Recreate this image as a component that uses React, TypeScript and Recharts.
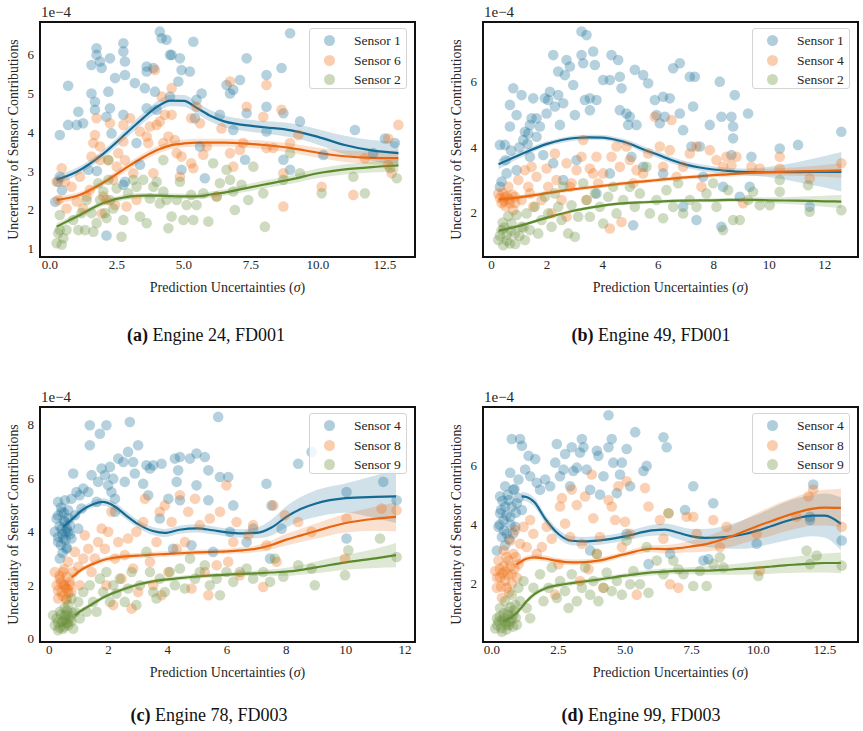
import { ComposedChart, Scatter, Line, Area, XAxis, YAxis } from 'recharts';

type Pt = [number, number];
type Fit = (number | null)[];

const FONT = "'Liberation Serif', 'Times New Roman', serif";
const INK = '#262626';
const FRAME = '#111111';

const COLORS = [
    { dot: '#1b6f99', line: '#146a93' },
    { dot: '#ef7016', line: '#e8650e' },
    { dot: '#6a8f3a', line: '#5b8a2c' },
];

// ---------- (a) Engine 24, FD001 ----------
const aNames = ['Sensor 1', 'Sensor 6', 'Sensor 2'];
const aSensor1: Pt[] = [
    [0.37, 3.93], [0.68, 5.2], [0.37, 2.85], [0.3, 2.72], [0.68, 4.19], [1.0, 4.19], [1.06, 4.53], [1.24, 4.23],
    [1.43, 3.03], [1.55, 5.0], [1.55, 5.74], [1.68, 4.58], [1.68, 4.79], [1.74, 6.0], [1.74, 6.17], [1.87, 5.83],
    [1.93, 5.66], [2.11, 4.4], [2.18, 5.05], [2.24, 5.91], [2.24, 4.62], [2.11, 1.33], [2.3, 3.97], [2.43, 5.4],
    [2.74, 6.3], [2.74, 6.09], [2.8, 5.83], [2.8, 5.48], [2.74, 4.45], [2.8, 2.72], [3.17, 5.27], [3.23, 3.72],
    [3.36, 3.16], [3.54, 5.14], [3.61, 5.57], [3.61, 5.7], [3.61, 4.62], [3.86, 5.66], [3.92, 5.05], [4.1, 6.6],
    [4.17, 6.43], [3.98, 4.58], [4.35, 6.39], [4.48, 6.0], [4.54, 6.0], [4.48, 4.92], [4.79, 5.31], [4.85, 5.91],
    [4.91, 5.61], [4.91, 3.03], [5.22, 5.57], [5.35, 6.34], [5.41, 4.36], [5.47, 4.84], [5.6, 3.63], [5.66, 5.0],
    [5.78, 2.81], [6.34, 4.45], [6.59, 5.22], [6.72, 5.0], [6.84, 5.1], [6.84, 4.06], [7.09, 5.35], [7.34, 5.91],
    [7.34, 4.49], [7.28, 3.29], [8.08, 5.48], [8.08, 4.66], [8.08, 4.02], [8.64, 5.66], [8.71, 4.49], [8.71, 3.29],
    [8.96, 6.56], [8.96, 3.03], [9.33, 4.28], [10.2, 3.41], [11.38, 4.06], [12.06, 3.46], [12.5, 3.84], [12.87, 3.72],
    [0.2, 2.2], [0.45, 2.5], [1.75, 3.0], [2.74, 2.64],
];
const aSensor6: Pt[] = [
    [0.25, 2.72], [0.31, 2.25], [0.44, 3.07], [0.56, 2.72], [0.62, 2.03], [0.81, 2.59], [1.0, 2.21], [1.12, 2.85],
    [1.24, 2.03], [1.37, 2.34], [1.49, 2.51], [1.55, 3.37], [1.62, 3.72], [1.68, 3.93], [1.74, 4.36], [1.87, 3.63],
    [1.87, 3.28], [1.93, 1.9], [1.99, 2.34], [2.11, 2.25], [2.18, 3.28], [2.24, 4.23], [2.36, 2.77], [2.43, 2.12],
    [2.49, 3.11], [2.55, 3.46], [2.74, 4.19], [2.74, 3.76], [2.8, 3.28], [2.86, 2.08], [2.99, 4.36], [3.11, 2.94],
    [3.23, 2.25], [3.36, 4.02], [3.61, 3.89], [3.67, 3.72], [3.73, 4.15], [3.86, 2.94], [3.92, 5.61], [3.98, 4.19],
    [4.1, 4.28], [4.17, 4.92], [4.23, 3.72], [4.29, 4.45], [4.42, 3.89], [4.54, 5.14], [4.54, 4.45], [4.66, 3.8],
    [4.73, 3.46], [4.85, 2.85], [4.91, 3.37], [5.27, 4.36], [5.27, 3.2], [5.35, 3.07], [5.47, 4.66], [5.6, 4.23],
    [5.72, 3.42], [5.85, 3.63], [6.22, 2.34], [6.4, 4.1], [6.72, 5.31], [6.72, 3.46], [6.84, 3.11], [7.09, 3.54],
    [7.21, 3.72], [7.34, 4.66], [7.96, 4.4], [8.08, 5.22], [8.08, 3.59], [8.33, 3.59], [8.64, 4.58], [8.71, 2.94],
    [8.71, 2.08], [8.96, 3.72], [9.27, 3.93], [10.14, 2.59], [11.32, 2.38], [11.75, 3.33], [12.62, 3.16],
    [12.62, 3.84], [13.0, 4.19], [12.75, 2.94],
];
const aSensor2: Pt[] = [
    [0.25, 1.13], [0.31, 1.39], [0.37, 1.47], [0.44, 1.09], [0.5, 1.26], [0.37, 1.86], [0.62, 1.47], [0.87, 1.73],
    [1.06, 1.47], [1.18, 1.91], [1.31, 1.47], [1.37, 2.25], [1.55, 1.91], [1.62, 1.43], [1.74, 1.65], [1.8, 2.68],
    [1.87, 2.25], [1.99, 2.47], [2.05, 1.91], [2.11, 1.78], [2.18, 3.28], [2.18, 2.77], [2.24, 2.25], [2.36, 2.03],
    [2.49, 2.55], [2.67, 1.3], [2.74, 1.73], [2.92, 2.42], [3.11, 2.77], [3.23, 2.59], [3.36, 1.82], [3.48, 2.77],
    [3.61, 1.65], [3.73, 2.29], [3.86, 2.59], [3.98, 2.72], [4.1, 2.16], [4.23, 2.47], [4.23, 3.28], [4.35, 2.25],
    [4.42, 1.52], [4.54, 1.82], [4.73, 2.25], [4.85, 2.72], [4.98, 1.73], [5.1, 2.12], [5.27, 2.38], [5.35, 1.73],
    [5.47, 2.12], [5.72, 2.42], [5.91, 1.69], [6.09, 3.2], [6.22, 2.34], [6.34, 2.68], [6.59, 3.03], [6.72, 2.77],
    [6.84, 2.47], [6.9, 1.99], [7.15, 2.64], [7.4, 2.25], [7.59, 3.11], [7.96, 2.42], [8.02, 1.56], [8.71, 2.77],
    [8.96, 3.46], [9.33, 2.94], [10.14, 2.42], [11.32, 2.85], [11.75, 2.42], [12.69, 3.07], [12.94, 2.81],
];
const aCurveX = [0.25, 1, 2, 3, 3.5, 4, 4.5, 5, 5.5, 6, 6.5, 7, 8, 9, 10, 11, 12, 13];
const aFit1: Fit = [2.77, 2.98, 3.45, 4.07, 4.38, 4.66, 4.82, 4.81, 4.62, 4.42, 4.28, 4.21, 4.13, 4.05, 3.88, 3.67, 3.53, 3.46];
const aHalf1 = [0.12, 0.1, 0.1, 0.12, 0.13, 0.14, 0.15, 0.15, 0.15, 0.15, 0.15, 0.15, 0.16, 0.18, 0.2, 0.24, 0.27, 0.3];
const aFit6: Fit = [2.25, 2.35, 2.7, 3.15, 3.36, 3.54, 3.66, 3.71, 3.73, 3.73, 3.73, 3.72, 3.67, 3.59, 3.47, 3.38, 3.34, 3.33];
const aHalf6 = [0.1, 0.08, 0.08, 0.1, 0.1, 0.1, 0.1, 0.1, 0.1, 0.1, 0.1, 0.1, 0.11, 0.12, 0.13, 0.15, 0.17, 0.2];
const aFit2: Fit = [1.56, 1.82, 2.17, 2.34, 2.36, 2.36, 2.35, 2.34, 2.34, 2.39, 2.44, 2.51, 2.65, 2.78, 2.94, 3.04, 3.1, 3.14];
const aHalf2 = [0.08, 0.07, 0.07, 0.07, 0.07, 0.07, 0.07, 0.07, 0.07, 0.08, 0.08, 0.09, 0.1, 0.11, 0.12, 0.13, 0.14, 0.16];

// ---------- (b) Engine 49, FD001 ----------
const bNames = ['Sensor 1', 'Sensor 4', 'Sensor 2'];
const bSensor1: Pt[] = [
    [0.3, 4.07], [0.36, 2.95], [0.48, 4.07], [0.66, 4.63], [0.78, 5.8], [0.66, 5.29], [0.9, 4.98], [1.08, 5.59],
    [1.14, 4.22], [1.2, 4.47], [1.32, 4.42], [1.38, 4.68], [1.44, 4.88], [1.5, 5.49], [1.62, 4.32], [1.62, 4.88],
    [1.74, 4.63], [1.86, 3.76], [1.92, 5.49], [1.98, 5.03], [2.04, 5.44], [2.1, 5.69], [2.22, 6.81], [2.28, 5.24],
    [2.4, 5.59], [2.4, 6.31], [2.46, 4.68], [2.58, 5.34], [2.64, 6.2], [2.7, 6.66], [2.82, 6.46], [2.94, 5.9],
    [3.0, 4.98], [3.24, 7.53], [3.42, 7.42], [3.24, 6.81], [3.3, 6.56], [3.36, 5.44], [3.54, 5.13], [3.66, 6.92],
    [3.72, 6.51], [3.54, 5.49], [3.78, 5.44], [4.02, 6.05], [4.26, 6.05], [4.32, 6.81], [4.56, 6.66], [4.62, 6.15],
    [4.68, 5.8], [4.62, 5.13], [4.86, 5.03], [4.98, 4.93], [4.92, 4.68], [5.22, 4.68], [5.16, 6.36], [5.46, 6.2],
    [5.64, 5.95], [5.88, 5.44], [5.94, 4.98], [6.06, 4.73], [6.18, 5.54], [6.24, 4.93], [6.42, 5.49], [6.54, 6.41],
    [6.78, 6.56], [6.78, 5.03], [6.9, 4.52], [7.14, 6.15], [7.32, 6.15], [7.26, 5.24], [7.2, 4.02], [7.5, 4.02],
    [7.86, 4.68], [8.22, 6.0], [8.28, 4.93], [8.28, 1.57], [8.64, 4.93], [8.7, 4.63], [8.7, 4.27], [8.76, 5.59],
    [8.64, 3.76], [9.24, 5.03], [9.36, 3.71], [10.38, 3.96], [11.04, 4.07], [12.6, 4.47], [11.46, 2.18], [8.94, 2.49],
    [0.3, 2.79], [0.54, 3.2], [0.9, 3.3], [1.38, 3.71], [2.22, 3.51], [2.58, 3.0], [3.06, 3.61], [3.78, 2.59],
    [4.26, 3.2], [5.04, 3.71], [5.46, 3.4], [6.18, 3.2], [6.9, 2.18], [7.62, 3.1], [8.34, 2.79], [9.3, 2.79],
    [5.1, 1.62], [7.38, 1.78], [0.5, 3.6], [1.0, 4.0], [1.3, 4.1], [0.7, 3.9],
];
const bSensor4: Pt[] = [
    [0.24, 2.59], [0.36, 2.29], [0.48, 2.49], [0.6, 2.79], [0.66, 2.29], [0.78, 2.08], [0.84, 2.49], [0.96, 3.0],
    [1.08, 2.39], [1.2, 3.3], [1.32, 2.79], [1.44, 3.4], [1.5, 2.18], [1.62, 3.1], [1.8, 2.39], [1.98, 3.35],
    [2.04, 2.79], [2.16, 1.98], [2.28, 3.81], [2.34, 3.0], [2.52, 2.39], [2.7, 3.51], [2.7, 1.88], [2.88, 2.9],
    [3.06, 3.3], [3.24, 3.71], [3.3, 4.22], [3.42, 2.39], [3.54, 3.35], [3.66, 3.2], [3.78, 3.71], [3.84, 2.9],
    [4.02, 3.2], [4.26, 1.52], [4.32, 3.71], [4.5, 4.02], [4.62, 3.4], [4.68, 1.72], [4.86, 4.02], [4.98, 3.61],
    [5.1, 2.9], [5.22, 3.3], [5.46, 3.2], [5.64, 3.81], [5.88, 4.93], [6.06, 4.02], [6.18, 3.4], [6.42, 3.91],
    [6.48, 4.83], [6.66, 3.1], [6.9, 3.4], [7.14, 3.81], [7.38, 4.02], [7.56, 2.79], [7.86, 3.91], [8.1, 3.61],
    [8.34, 3.4], [8.46, 3.71], [8.64, 3.45], [8.82, 3.71], [9.06, 2.29], [9.36, 3.4], [9.66, 3.35], [10.38, 3.71],
    [10.38, 3.35], [11.46, 3.05], [12.6, 3.51], [2.82, 2.79], [1.38, 2.59], [0.3, 2.45], [0.45, 2.35], [0.55, 2.5],
    [0.65, 2.4], [0.5, 2.2], [0.75, 2.55], [0.4, 2.6], [0.85, 2.3],
];
const bSensor2: Pt[] = [
    [0.24, 1.17], [0.36, 1.47], [0.42, 1.01], [0.54, 1.32], [0.66, 1.06], [0.72, 1.67], [0.84, 1.37], [0.9, 1.93],
    [1.08, 1.57], [1.2, 1.17], [1.26, 1.98], [1.38, 1.47], [1.56, 2.18], [1.68, 1.37], [1.8, 1.78], [1.92, 2.49],
    [2.04, 1.98], [2.16, 1.57], [2.28, 2.59], [2.4, 2.18], [2.52, 1.78], [2.58, 2.79], [2.76, 1.37], [2.88, 2.23],
    [3.0, 1.27], [3.12, 1.88], [3.3, 2.9], [3.42, 2.39], [3.54, 1.88], [3.72, 2.59], [3.9, 2.18], [4.02, 1.67],
    [4.2, 2.49], [4.38, 2.79], [4.5, 1.98], [4.74, 2.39], [4.98, 2.79], [5.16, 2.18], [5.34, 2.59], [5.58, 3.4],
    [5.7, 1.98], [5.94, 2.39], [6.18, 1.83], [6.3, 2.69], [6.54, 2.18], [6.72, 2.9], [6.9, 1.98], [7.14, 2.39],
    [7.38, 2.18], [7.74, 2.59], [7.98, 2.9], [8.1, 2.18], [8.34, 1.47], [8.52, 2.69], [8.7, 1.78], [8.94, 1.78],
    [9.24, 2.39], [9.42, 2.64], [9.66, 2.23], [10.02, 2.23], [10.38, 3.0], [10.38, 2.64], [11.4, 2.84],
    [11.46, 2.03], [12.6, 2.08], [0.3, 1.3], [0.45, 1.55], [0.55, 1.15], [0.7, 1.45], [0.85, 1.05], [1.0, 1.3],
    [1.15, 1.55], [0.4, 1.7], [0.6, 1.9],
];
const bCurveX = [0.25, 1, 2, 3, 3.5, 4, 4.5, 5, 5.5, 6, 6.5, 7, 7.5, 8, 8.5, 9, 9.5, 10, 11, 12, 12.6];
const bFit1: Fit = [3.48, 3.76, 4.1, 4.28, 4.3, 4.29, 4.22, 4.1, 3.92, 3.77, 3.6, 3.47, 3.38, 3.32, 3.28, 3.25, 3.24, 3.24, 3.24, 3.25, 3.25];
const bHalf1 = [0.15, 0.1, 0.08, 0.08, 0.08, 0.08, 0.08, 0.09, 0.1, 0.1, 0.1, 0.1, 0.1, 0.1, 0.1, 0.1, 0.12, 0.16, 0.3, 0.48, 0.6];
const bFit4: Fit = [2.4, 2.47, 2.6, 2.72, 2.77, 2.82, 2.87, 2.92, 2.96, 3.0, 3.04, 3.08, 3.11, 3.15, 3.17, 3.2, 3.22, 3.24, 3.26, 3.28, 3.29];
const bHalf4 = [0.08, 0.06, 0.06, 0.06, 0.06, 0.06, 0.06, 0.06, 0.06, 0.06, 0.06, 0.06, 0.07, 0.07, 0.08, 0.08, 0.09, 0.1, 0.13, 0.18, 0.22];
const bFit2: Fit = [1.45, 1.6, 1.85, 2.07, 2.15, 2.22, 2.27, 2.3, 2.32, 2.34, 2.36, 2.37, 2.38, 2.38, 2.39, 2.39, 2.39, 2.38, 2.37, 2.35, 2.34];
const bHalf2 = [0.07, 0.05, 0.05, 0.05, 0.05, 0.05, 0.05, 0.05, 0.05, 0.05, 0.05, 0.05, 0.05, 0.06, 0.06, 0.07, 0.08, 0.09, 0.12, 0.17, 0.2];

// ---------- (c) Engine 78, FD003 ----------
const cNames = ['Sensor 4', 'Sensor 8', 'Sensor 9'];
const cSensor4: Pt[] = [
    [0.19, 3.99], [0.25, 4.49], [0.3, 5.11], [0.3, 3.61], [0.36, 2.99], [0.42, 4.74], [0.42, 4.11], [0.47, 3.74],
    [0.53, 5.17], [0.53, 4.36], [0.58, 3.36], [0.64, 3.99], [0.64, 4.8], [0.7, 4.24], [0.75, 5.23], [0.75, 3.74],
    [0.81, 6.17], [0.87, 4.61], [0.92, 5.48], [0.98, 4.11], [1.03, 5.36], [1.09, 4.86], [1.15, 5.61], [1.32, 5.48],
    [1.37, 7.23], [1.43, 6.11], [1.37, 7.98], [1.6, 5.11], [1.65, 5.86], [1.71, 7.66], [1.77, 6.36], [1.93, 7.98],
    [1.88, 6.11], [1.99, 5.73], [2.05, 6.42], [2.1, 5.48], [2.16, 5.98], [2.22, 5.23], [2.22, 4.74], [2.33, 6.73],
    [2.5, 6.6], [2.55, 5.86], [2.66, 6.98], [2.72, 8.1], [2.83, 6.6], [2.89, 6.17], [3.0, 7.23], [3.17, 5.79],
    [3.28, 6.48], [3.34, 5.36], [3.4, 6.36], [3.51, 6.48], [3.79, 6.54], [4.02, 5.23], [4.24, 6.73], [4.3, 5.86],
    [4.35, 6.29], [4.41, 6.79], [4.41, 5.17], [4.75, 6.73], [4.97, 5.73], [4.97, 6.92], [5.25, 6.79], [5.37, 6.29],
    [5.37, 5.17], [5.7, 8.29], [5.76, 6.04], [6.04, 6.04], [6.21, 4.98], [6.1, 3.99], [6.66, 3.61], [7.33, 5.79],
    [7.45, 2.99], [7.5, 4.98], [7.84, 4.11], [8.4, 6.54], [8.85, 6.98], [10.03, 3.74], [10.03, 5.48], [11.27, 5.86],
    [11.72, 5.17], [4.8, 3.49], [5.53, 3.24], [6.88, 4.11], [3.73, 4.49], [4.18, 3.36], [0.3, 3.8], [0.35, 4.2],
    [0.4, 3.5], [0.45, 3.9], [0.5, 4.4], [0.55, 3.7], [0.6, 4.1], [0.4, 4.9], [0.5, 4.7], [0.6, 3.4], [0.3, 4.6],
    [0.65, 4.5], [0.7, 3.9], [0.45, 3.2], [0.55, 4.0],
];
const cSensor8: Pt[] = [
    [0.19, 2.49], [0.25, 1.99], [0.3, 1.5], [0.36, 2.24], [0.42, 1.74], [0.47, 2.49], [0.53, 1.99], [0.58, 1.5],
    [0.64, 2.87], [0.7, 2.12], [0.75, 1.74], [0.81, 2.49], [0.87, 3.24], [0.98, 2.68], [1.03, 1.99], [1.15, 2.99],
    [1.2, 3.86], [1.32, 3.36], [1.43, 2.49], [1.54, 2.99], [1.65, 3.61], [1.77, 4.11], [1.88, 3.36], [1.93, 1.99],
    [1.99, 3.99], [2.1, 4.74], [2.16, 1.25], [2.22, 2.99], [2.33, 3.61], [2.44, 2.24], [2.55, 3.12], [2.66, 3.74],
    [2.78, 1.12], [2.83, 2.62], [2.94, 3.99], [3.0, 1.74], [3.17, 4.36], [3.23, 5.23], [3.4, 2.87], [3.51, 1.99],
    [3.62, 3.61], [3.73, 4.74], [3.79, 1.62], [3.9, 4.98], [4.02, 2.49], [4.13, 4.36], [4.3, 3.36], [4.41, 5.36],
    [4.58, 3.61], [4.69, 4.74], [4.8, 1.87], [4.92, 5.23], [5.08, 4.24], [5.25, 2.49], [5.37, 1.62], [5.42, 4.49],
    [5.65, 2.74], [5.76, 4.74], [5.98, 5.73], [6.04, 2.87], [6.21, 3.61], [6.32, 4.36], [6.43, 2.37], [6.72, 3.86],
    [6.88, 4.24], [7.22, 1.93], [7.33, 3.49], [7.56, 4.98], [7.67, 2.87], [7.95, 4.61], [8.4, 4.36], [8.85, 3.99],
    [9.98, 2.99], [10.03, 4.49], [11.21, 4.86], [11.72, 4.8], [0.3, 1.8], [0.4, 2.1], [0.45, 1.6], [0.55, 1.9],
    [0.6, 2.3], [0.65, 1.7], [0.5, 2.6], [0.7, 2.0], [0.35, 2.35], [0.58, 1.45], [0.62, 1.85], [0.48, 2.0],
];
const cSensor9: Pt[] = [
    [0.13, 0.87], [0.19, 0.5], [0.25, 0.75], [0.3, 0.31], [0.36, 1.0], [0.42, 0.62], [0.47, 0.37], [0.53, 0.87],
    [0.58, 0.56], [0.64, 1.25], [0.7, 0.75], [0.75, 1.5], [0.81, 0.37], [0.87, 1.0], [0.98, 1.37], [1.03, 0.75],
    [1.15, 1.74], [1.26, 1.0], [1.37, 1.99], [1.48, 1.37], [1.6, 1.0], [1.71, 2.24], [1.82, 1.74], [1.93, 2.49],
    [2.05, 1.37], [2.16, 1.99], [2.27, 1.68], [2.38, 2.24], [2.55, 1.37], [2.66, 1.87], [2.78, 2.49], [2.94, 1.25],
    [3.06, 1.99], [3.28, 3.24], [3.4, 2.49], [3.51, 1.74], [3.62, 1.5], [3.73, 2.24], [3.9, 1.74], [4.07, 2.49],
    [4.24, 1.99], [4.41, 2.62], [4.58, 1.87], [4.75, 2.99], [4.92, 2.24], [5.08, 2.49], [5.25, 2.74], [5.42, 1.99],
    [5.65, 2.24], [5.76, 1.62], [5.98, 2.49], [6.21, 2.12], [6.43, 2.49], [6.66, 2.62], [6.88, 2.24], [7.22, 2.49],
    [7.45, 2.12], [7.61, 2.99], [7.9, 2.31], [8.4, 2.74], [8.85, 2.62], [8.96, 1.99], [9.98, 2.37], [10.09, 3.3],
    [11.16, 3.74], [11.72, 3.05], [0.3, 0.6], [0.4, 0.9], [0.5, 0.45], [0.55, 0.7], [0.6, 1.05], [0.65, 0.5],
    [0.7, 0.85], [0.45, 0.65], [0.35, 0.4], [0.58, 0.9], [0.62, 0.6], [0.52, 1.15], [0.75, 0.65], [0.8, 0.95],
];
const cCurveX = [0.47, 0.76, 0.87, 1, 1.5, 1.8, 2.2, 2.6, 3, 3.5, 3.9, 4.4, 5, 5.5, 6, 6.5, 7, 7.5, 8, 8.5, 9, 10, 11, 11.7];
const cFit4: Fit = [4.17, 4.45, 4.56, 4.7, 5.03, 5.11, 4.95, 4.6, 4.28, 4.02, 3.95, 4.07, 4.12, 4.05, 3.97, 3.93, 3.95, 4.15, 4.55, 4.85, 5.05, 5.25, 5.3, 5.32];
const cHalf4 = [0.18, 0.14, 0.13, 0.12, 0.12, 0.14, 0.15, 0.15, 0.15, 0.15, 0.15, 0.15, 0.15, 0.15, 0.15, 0.16, 0.2, 0.3, 0.4, 0.45, 0.5, 0.55, 0.8, 1.0];
const cFit8: Fit = [null, 2.3, 2.38, 2.5, 2.8, 2.93, 3.02, 3.07, 3.1, 3.14, 3.16, 3.19, 3.22, 3.24, 3.26, 3.3, 3.36, 3.5, 3.7, 3.86, 4.02, 4.32, 4.48, 4.55];
const cHalf8 = [0, 0.12, 0.11, 0.1, 0.1, 0.1, 0.1, 0.1, 0.1, 0.1, 0.1, 0.1, 0.1, 0.1, 0.1, 0.11, 0.13, 0.17, 0.22, 0.25, 0.28, 0.35, 0.45, 0.55];
const cFit9: Fit = [null, null, 0.87, 0.98, 1.32, 1.52, 1.72, 1.88, 2.02, 2.14, 2.2, 2.26, 2.32, 2.36, 2.39, 2.42, 2.44, 2.47, 2.5, 2.57, 2.66, 2.85, 3.0, 3.12];
const cHalf9 = [0, 0, 0.12, 0.1, 0.08, 0.08, 0.08, 0.08, 0.08, 0.08, 0.08, 0.08, 0.08, 0.08, 0.08, 0.09, 0.1, 0.12, 0.15, 0.18, 0.22, 0.28, 0.36, 0.45];

// ---------- (d) Engine 99, FD003 ----------
const dNames = ['Sensor 4', 'Sensor 8', 'Sensor 9'];
const dSensor4: Pt[] = [
    [0.19, 3.12], [0.25, 3.92], [0.31, 4.38], [0.31, 4.95], [0.38, 3.58], [0.44, 4.15], [0.5, 4.61], [0.5, 5.29],
    [0.56, 3.69], [0.63, 4.83], [0.69, 4.26], [0.69, 5.75], [0.75, 6.89], [0.81, 5.17], [0.88, 3.92], [0.94, 4.72],
    [1.0, 5.52], [1.06, 6.89], [1.13, 6.66], [1.13, 4.49], [1.25, 5.86], [1.38, 6.32], [1.44, 5.63], [1.63, 6.21],
    [1.69, 5.41], [1.81, 5.17], [2.0, 5.52], [2.19, 5.29], [2.38, 6.09], [2.44, 6.72], [2.56, 5.63], [2.69, 5.86],
    [2.75, 6.38], [2.94, 5.29], [3.0, 6.61], [3.06, 5.81], [3.19, 5.92], [3.31, 6.43], [3.38, 6.89], [3.44, 6.61],
    [3.56, 5.86], [3.69, 5.17], [3.94, 6.49], [4.0, 6.32], [4.06, 5.01], [4.19, 5.63], [4.38, 7.69], [4.38, 6.61],
    [4.5, 6.89], [4.56, 6.09], [4.69, 5.06], [4.81, 5.69], [4.88, 6.09], [5.06, 6.55], [5.19, 5.29], [5.38, 7.12],
    [5.69, 5.81], [5.81, 5.98], [6.44, 6.95], [6.56, 6.61], [5.88, 2.66], [7.25, 4.49], [7.56, 5.29], [7.94, 2.78],
    [8.31, 4.72], [8.13, 2.83], [9.94, 3.35], [11.94, 4.26], [12.06, 5.35], [11.94, 4.15], [13.13, 3.46],
    [6.69, 3.01], [5.06, 3.69], [3.69, 3.12], [0.3, 4.0], [0.35, 4.5], [0.45, 3.8], [0.55, 4.3], [0.6, 5.0],
    [0.65, 3.5], [0.75, 4.6], [0.85, 5.2], [0.9, 4.4], [0.5, 3.3], [0.4, 4.8], [0.7, 4.0], [1.0, 4.9], [0.8, 3.7],
];
const dSensor8: Pt[] = [
    [0.13, 2.43], [0.19, 1.86], [0.25, 2.78], [0.31, 2.21], [0.38, 1.52], [0.44, 3.12], [0.5, 2.43], [0.56, 1.86],
    [0.63, 2.78], [0.69, 3.46], [0.75, 2.32], [0.81, 3.01], [0.88, 3.81], [1.0, 2.66], [1.06, 3.35], [1.19, 3.92],
    [1.31, 3.24], [1.44, 4.15], [1.56, 3.69], [1.69, 3.01], [1.88, 3.24], [2.06, 3.92], [2.25, 3.52], [2.38, 1.63],
    [2.5, 2.66], [2.56, 4.61], [2.63, 4.89], [2.75, 4.03], [2.94, 3.58], [3.0, 5.18], [3.19, 4.66], [3.31, 2.09],
    [3.38, 3.35], [3.5, 4.95], [3.63, 2.49], [3.75, 5.69], [3.81, 4.21], [3.94, 3.01], [4.06, 3.58], [4.19, 1.86],
    [4.38, 4.83], [4.5, 4.61], [4.63, 4.15], [4.75, 5.29], [4.88, 3.24], [5.0, 4.09], [5.06, 5.46], [5.19, 3.69],
    [5.44, 1.63], [5.75, 5.23], [5.88, 4.61], [6.31, 4.15], [6.44, 3.52], [6.63, 4.38], [6.69, 1.98], [7.0, 1.86],
    [7.31, 4.26], [7.56, 4.26], [7.69, 3.69], [8.31, 4.15], [8.56, 3.24], [8.81, 3.92], [9.94, 3.69], [10.06, 2.43],
    [11.88, 4.95], [12.06, 5.18], [13.13, 3.92], [11.44, 4.26], [0.2, 2.2], [0.3, 2.5], [0.35, 1.9], [0.45, 2.6],
    [0.5, 2.1], [0.55, 2.9], [0.6, 2.3], [0.65, 1.7], [0.7, 2.6], [0.75, 2.0], [0.4, 2.35], [0.85, 2.5], [0.9, 2.9],
    [0.95, 2.2],
];
const dSensor9: Pt[] = [
    [0.13, 0.49], [0.19, 0.83], [0.25, 0.72], [0.31, 1.18], [0.38, 0.38], [0.44, 0.83], [0.5, 1.41], [0.56, 0.61],
    [0.63, 1.06], [0.69, 0.72], [0.75, 1.63], [0.81, 0.95], [0.88, 1.29], [0.94, 0.61], [1.0, 1.86], [1.06, 1.41],
    [1.19, 2.09], [1.31, 1.18], [1.44, 0.83], [1.56, 1.86], [1.81, 2.32], [1.94, 1.41], [2.13, 1.86], [2.25, 2.55],
    [2.44, 1.52], [2.56, 2.09], [2.75, 1.75], [2.88, 1.18], [3.0, 2.32], [3.19, 1.41], [3.38, 1.86], [3.5, 2.55],
    [3.69, 1.63], [3.81, 2.09], [4.0, 1.41], [4.19, 1.86], [4.31, 2.38], [4.5, 1.75], [4.69, 2.09], [4.88, 1.63],
    [5.06, 3.46], [5.19, 1.98], [5.31, 2.43], [5.56, 1.98], [5.88, 1.69], [6.19, 2.78], [6.44, 2.32], [6.63, 4.38],
    [6.81, 2.78], [7.0, 2.49], [7.19, 2.32], [7.56, 1.92], [7.81, 2.43], [8.06, 1.92], [8.31, 2.66], [8.56, 2.89],
    [8.69, 2.55], [10.0, 2.26], [11.81, 3.12], [11.94, 2.66], [12.19, 2.95], [13.13, 2.61], [3.94, 3.01],
    [5.81, 3.24], [0.2, 0.6], [0.3, 0.9], [0.35, 0.5], [0.45, 1.0], [0.5, 0.7], [0.55, 0.45], [0.6, 0.95],
    [0.65, 0.6], [0.7, 1.2], [0.75, 0.8], [0.8, 0.55], [0.85, 1.1], [0.9, 0.85], [0.4, 0.75],
];
const dCurveX = [0.42, 0.7, 0.92, 1.12, 1.3, 1.6, 2, 2.5, 3, 3.5, 4, 5, 6, 6.5, 7, 7.5, 8, 8.5, 9, 9.5, 10, 10.5, 11, 11.5, 12, 12.5, 13.1];
const dFit4: Fit = [null, null, null, 4.95, 4.93, 4.75, 4.2, 3.68, 3.45, 3.43, 3.46, 3.6, 3.8, 3.83, 3.72, 3.6, 3.55, 3.56, 3.6, 3.68, 3.8, 3.95, 4.1, 4.22, 4.3, 4.3, 4.02];
const dHalf4 = [0, 0, 0, 0.15, 0.15, 0.15, 0.15, 0.15, 0.15, 0.15, 0.15, 0.15, 0.18, 0.2, 0.22, 0.25, 0.3, 0.35, 0.42, 0.5, 0.55, 0.6, 0.65, 0.68, 0.7, 0.75, 0.9];
const dFit8: Fit = [null, null, 2.65, 2.76, 2.84, 2.89, 2.85, 2.76, 2.72, 2.73, 2.78, 3.0, 3.18, 3.17, 3.2, 3.26, 3.33, 3.45, 3.6, 3.78, 3.96, 4.12, 4.28, 4.42, 4.53, 4.57, 4.56];
const dHalf8 = [0, 0, 0.12, 0.11, 0.1, 0.1, 0.1, 0.1, 0.1, 0.1, 0.1, 0.1, 0.12, 0.14, 0.16, 0.2, 0.25, 0.3, 0.35, 0.4, 0.45, 0.5, 0.52, 0.55, 0.57, 0.6, 0.65];
const dFit9: Fit = [0.73, 0.85, 1.0, 1.2, 1.4, 1.65, 1.84, 1.95, 2.02, 2.08, 2.14, 2.27, 2.38, 2.41, 2.43, 2.44, 2.44, 2.46, 2.48, 2.51, 2.54, 2.58, 2.62, 2.65, 2.68, 2.7, 2.7];
const dHalf9 = [0.12, 0.11, 0.1, 0.1, 0.09, 0.08, 0.08, 0.08, 0.08, 0.08, 0.08, 0.08, 0.1, 0.1, 0.1, 0.12, 0.14, 0.16, 0.18, 0.2, 0.22, 0.24, 0.26, 0.28, 0.3, 0.32, 0.35];

interface PanelCfg {
    left: number;
    top: number;
    width: number;
    right: number;
    xDomain: [number, number];
    yDomain: [number, number];
    xTicks: number[];
    yTicks: number[];
    xDigits: number;
    names: string[];
    points: Pt[][];
    curveX: number[];
    fits: Fit[];
    halfs: number[][];
}

const PANELS: PanelCfg[] = [
    {
        left: 0, top: 0, width: 430, right: 15,
        xDomain: [-0.37, 13.62], yDomain: [0.775, 6.85],
        xTicks: [0, 2.5, 5, 7.5, 10, 12.5], yTicks: [1, 2, 3, 4, 5, 6], xDigits: 1,
        names: aNames, points: [aSensor1, aSensor6, aSensor2],
        curveX: aCurveX, fits: [aFit1, aFit6, aFit2], halfs: [aHalf1, aHalf6, aHalf2],
    },
    {
        left: 443, top: 0, width: 420, right: 5,
        xDomain: [-0.31, 13.2], yDomain: [0.65, 7.82],
        xTicks: [0, 2, 4, 6, 8, 10, 12], yTicks: [2, 4, 6], xDigits: 0,
        names: bNames, points: [bSensor1, bSensor4, bSensor2],
        curveX: bCurveX, fits: [bFit1, bFit4, bFit2], halfs: [bHalf1, bHalf4, bHalf2],
    },
    {
        left: 0, top: 385, width: 430, right: 15,
        xDomain: [-0.31, 12.34], yDomain: [-0.13, 8.66],
        xTicks: [0, 2, 4, 6, 8, 10, 12], yTicks: [0, 2, 4, 6, 8], xDigits: 0,
        names: cNames, points: [cSensor4, cSensor8, cSensor9],
        curveX: cCurveX, fits: [cFit4, cFit8, cFit9], halfs: [cHalf4, cHalf8, cHalf9],
    },
    {
        left: 443, top: 385, width: 420, right: 5,
        xDomain: [-0.33, 13.74], yDomain: [0.03, 7.97],
        xTicks: [0, 2.5, 5, 7.5, 10, 12.5], yTicks: [2, 4, 6], xDigits: 1,
        names: dNames, points: [dSensor4, dSensor8, dSensor9],
        curveX: dCurveX, fits: [dFit4, dFit8, dFit9], halfs: [dHalf4, dHalf8, dHalf9],
    },
];

const CAPTIONS = [
    { tag: '(a)', text: ' Engine 24, FD001', x: 206, y: 335 },
    { tag: '(b)', text: ' Engine 49, FD001', x: 651, y: 335 },
    { tag: '(c)', text: ' Engine 78, FD003', x: 209, y: 715 },
    { tag: '(d)', text: ' Engine 99, FD003', x: 641, y: 715 },
];

const tickStyle = { fill: INK, fontSize: 13, fontFamily: FONT };

const xTitle = (props: any) => {
    const vb = props.viewBox;
    return (
        <text x={vb.x + vb.width / 2} y={vb.y + 34.5} textAnchor="middle" fill={INK} fontSize={14} fontFamily={FONT}>
            Prediction Uncertainties (<tspan fontStyle="italic">σ</tspan>)
        </text>
    );
};

const yTitle = (props: any) => {
    const vb = props.viewBox;
    const x = vb.x + 13;
    const y = vb.y + vb.height / 2;
    return (
        <g>
            <text x={x} y={y} transform={`rotate(-90 ${x} ${y})`} textAnchor="middle" dominantBaseline="central"
                fill={INK} fontSize={13.8} fontFamily={FONT}>
                Uncertainty of Sensor Contributions
            </text>
            <text x={vb.x + vb.width + 1} y={vb.y - 5} fill={INK} fontSize={15} fontFamily={FONT}>1e−4</text>
        </g>
    );
};

const Panel = ({ cfg }: { cfg: PanelCfg }) => {
    const rows = cfg.curveX.map((x, i) => {
        const row: Record<string, any> = { x };
        cfg.fits.forEach((fit, k) => {
            const v = fit[i];
            row[`f${k}`] = v;
            row[`b${k}`] = v == null ? null : [v - cfg.halfs[k][i], v + cfg.halfs[k][i]];
        });
        return row;
    });
    const fmt = (v: number) => v.toFixed(cfg.xDigits);
    const boxRight = cfg.width - cfg.right;

    return (
        <div style={{ position: 'absolute', left: cfg.left, top: cfg.top, width: cfg.width, height: 300 }}>
            <ComposedChart width={cfg.width} height={300} data={rows}
                margin={{ top: 22, right: cfg.right, bottom: 3, left: 0 }}>
                <XAxis type="number" dataKey="x" domain={cfg.xDomain} ticks={cfg.xTicks} allowDataOverflow
                    interval={0} axisLine={false} tickLine={false} tickSize={0} tickMargin={3} height={40}
                    tick={tickStyle} tickFormatter={fmt} label={xTitle} />
                <YAxis type="number" domain={cfg.yDomain} ticks={cfg.yTicks} allowDataOverflow interval={0}
                    axisLine={false} tickLine={false} tickSize={0} tickMargin={6} width={40}
                    tick={tickStyle} label={yTitle} />
                {cfg.points.map((pts, k) => [
                    <Scatter key={`s${k}`} name={cfg.names[k]} data={pts.map(([x, y]) => ({ x, y }))} dataKey="y"
                        isAnimationActive={false}
                        shape={(p: any) => (
                            <circle cx={p.cx} cy={p.cy} r={5.3} fill={COLORS[k].dot} fillOpacity={0.32} />
                        )} />,
                    <Area key={`a${k}`} dataKey={`b${k}`} type="monotone" stroke="none" fill={COLORS[k].line}
                        fillOpacity={0.2} isAnimationActive={false} activeDot={false} dot={false} />,
                    <Line key={`l${k}`} dataKey={`f${k}`} type="monotone" stroke={COLORS[k].line} strokeWidth={2.2}
                        dot={false} activeDot={false} isAnimationActive={false} />,
                ])}
            </ComposedChart>
            {/* axes frame */}
            <div style={{
                position: 'absolute', left: 39, top: 21, width: boxRight - 40 + 2, height: 237,
                borderStyle: 'solid', borderWidth: 2, borderColor: FRAME, boxSizing: 'border-box',
                pointerEvents: 'none', zIndex: 5,
            }} />
            <div style={{
                position: 'absolute', top: 28, left: boxRight - 106, width: 98, height: 61, zIndex: 6,
                border: '1px solid #d4d4d4', borderRadius: 3, background: 'rgba(255,255,255,0.8)',
                boxSizing: 'border-box', fontFamily: FONT, fontSize: 13.5, color: INK,
            }}>
                {cfg.names.map((n, k) => (
                    <div key={n} style={{ position: 'absolute', left: 0, top: 2 + k * 19.5, height: 19, width: '100%' }}>
                        <span style={{
                            position: 'absolute', left: 14, top: 4, width: 11, height: 11, borderRadius: 6,
                            background: COLORS[k].dot, opacity: 0.35,
                        }} />
                        <span style={{ position: 'absolute', left: 44, top: 1, lineHeight: '17px' }}>{n}</span>
                    </div>
                ))}
            </div>
        </div>
    );
};

export default function App() {
    return (
        <div style={{ position: 'absolute', left: 0, top: 0, width: 863, height: 731, background: '#fff' }}>
            {PANELS.map((p, i) => <Panel key={i} cfg={p} />)}
            {CAPTIONS.map((c) => (
                <div key={c.tag} style={{
                    position: 'absolute', left: c.x - 150, top: c.y - 11, width: 300, textAlign: 'center',
                    fontFamily: FONT, fontSize: 18, lineHeight: '22px', color: '#111',
                }}>
                    <b>{c.tag}</b>{c.text}
                </div>
            ))}
        </div>
    );
}
